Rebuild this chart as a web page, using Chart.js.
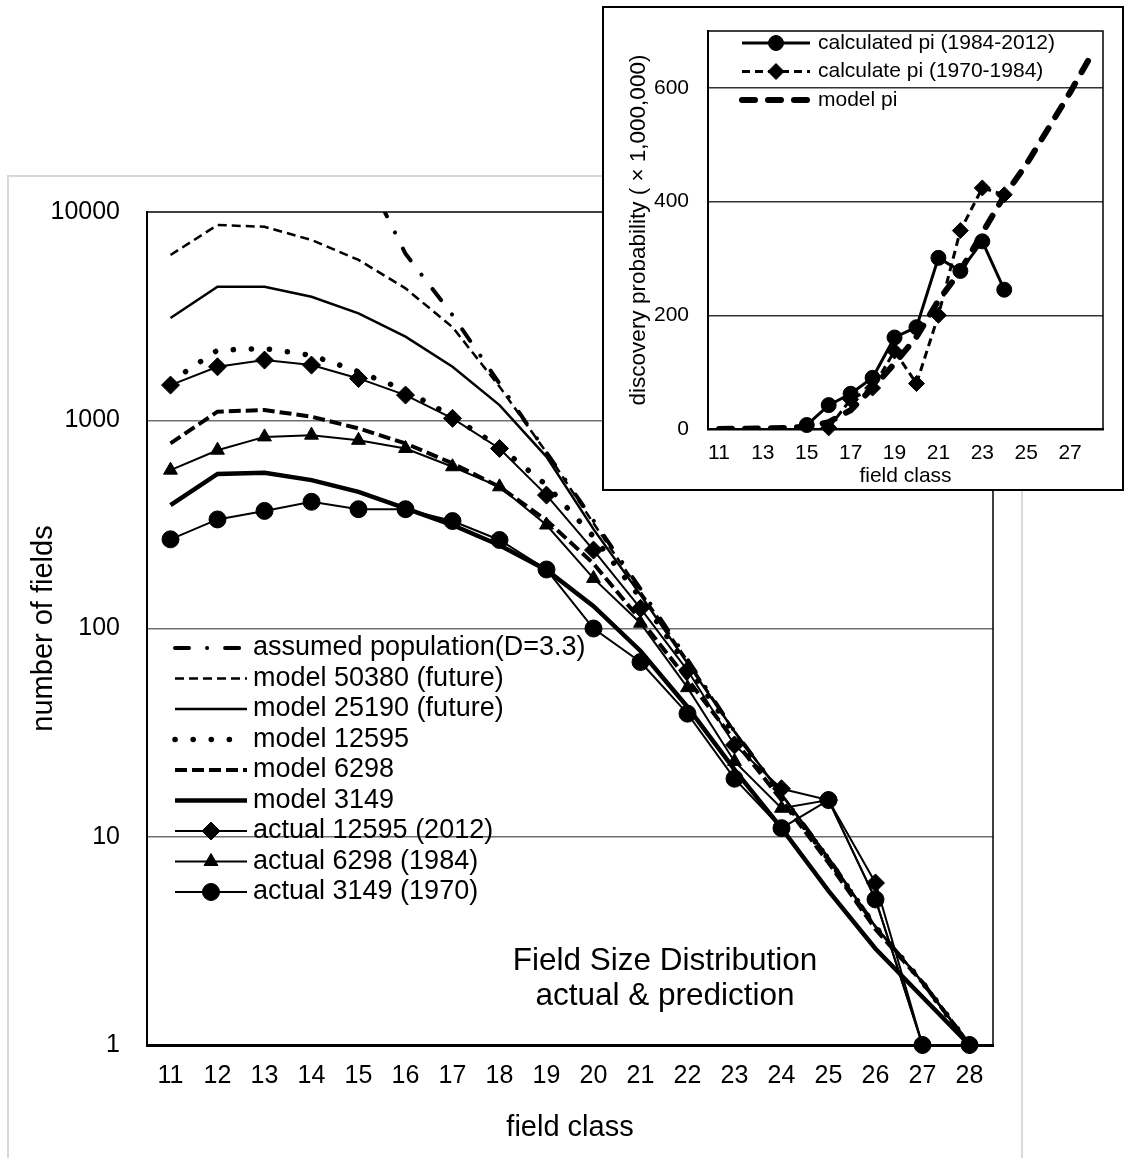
<!DOCTYPE html>
<html lang="en">
<head>
<meta charset="UTF-8">
<title>Field Size Distribution</title>
<script src="https://cdn.jsdelivr.net/npm/chart.js"></script>
<style>
    body { margin: 0; background: #fff; }
    #page { position: relative; width: 1124px; height: 1158px; overflow: hidden; }
    #frame { position: absolute; left: 7px; top: 175px; width: 1016px; height: 1020px; border: 2px solid #d9d9d9; box-sizing: border-box; }
    #mainChart { position: absolute; left: 0; top: 0; }
    #insetWrap { position: absolute; left: 602px; top: 6px; width: 522px; height: 485px; border: 2px solid #000; background: #fff; box-sizing: border-box; }
    #insetChart { display: block; }
</style>
</head>
<body>
<div id="page">
    <div id="frame"></div>
    <canvas id="mainChart" width="1124" height="1158"></canvas>
    <div id="insetWrap"><canvas id="insetChart" width="518" height="481"></canvas></div>
</div>

<script>
// field classes (x axis of both charts)
var classes = ['11','12','13','14','15','16','17','18','19','20','21','22','23','24','25','26','27','28'];
var yTicks = [1, 10, 100, 1000, 10000];

// number of fields, main chart
var assumedPop  = [null, null, null, null, 18000, 6300, 3200, 1500, 700, 330, 155, 71, 32, 16, 7.9, 3.7, 2, 1];
var model50380  = [6215, 8660, 8490, 7340, 5890, 4300, 2800, 1450, 700, 320, 150, 70, 32, 16, 7.9, 3.7, 2, 1];
var model25190  = [3100, 4375, 4375, 3920, 3260, 2520, 1806, 1183, 667, 300, 145, 68, 32, 16, 7.9, 3.7, 2, 1];
var model12595  = [1530, 2170, 2210, 2050, 1710, 1395, 1040, 745, 488, 276, 140, 66, 31, 15.5, 7.8, 3.7, 2, 1];
var model6298   = [774, 1100, 1120, 1040, 914, 774, 621, 479, 331, 205, 110, 57, 29, 15, 7.5, 3.6, 2, 1];
var model3149   = [391, 552, 560, 516, 453, 377, 314, 251, 191, 128, 78, 42, 21, 11, 5.5, 2.9, 1.7, 1];
var actual12595 = [1475, 1806, 1945, 1840, 1588, 1321, 1021, 732, 437, 238, 125, 63, 27.6, 17, 15, 6, 1, 1];
var actual6298  = [576, 718, 832, 848, 801, 732, 598, 479, 314, 174, 106, 52, 23, 13.7, 15, 5, 1, 1];
var actual3149  = [268, 334, 367, 406, 374, 374, 328, 266, 192, 100, 69, 39, 19, 11, 15, 5, 1, 1];

// discovery probability (x 1,000,000), inset chart
var calcPi8412 = [null, null, null, null, 7, 42, 62, 90, 161, 179, 301, 278, 330, 245, null, null, null, null];
var calcPi7084 = [null, null, null, null, null, 2, 52, 72, 137, 80, 200, 349, 424, 412, null, null, null, null];
var modelPi    = [0, 0.5, 1, 2, 4, 12, 33, 72, 115, 162, 226, 278, 345, 410, 465, 528, 592, 660];

var FONT = "'Liberation Sans', Arial, sans-serif";

function lineSet(label, data, width, dash, cap, order) {
    return {
        label: label, data: data, borderColor: '#000', backgroundColor: '#000',
        borderWidth: width, borderDash: dash, borderCapStyle: cap,
        pointRadius: 0, tension: 0, order: order
    };
}
function markSet(label, data, style, radius, width, dash, order) {
    return {
        label: label, data: data, borderColor: '#000', backgroundColor: '#000',
        borderWidth: width, borderDash: dash, pointStyle: style, pointRadius: radius,
        pointBorderWidth: 1, tension: 0, order: order, clip: false
    };
}

// draws top and right edge of the plot box
var boxEdges = {
    id: 'boxEdges',
    afterDraw: function(chart, args, opts) {
        var a = chart.chartArea, ctx = chart.ctx;
        ctx.save();
        ctx.strokeStyle = '#000';
        ctx.lineWidth = opts.width || 1.5;
        ctx.beginPath();
        ctx.moveTo(a.left, a.top); ctx.lineTo(a.right, a.top); ctx.lineTo(a.right, a.bottom);
        ctx.stroke();
        ctx.restore();
    }
};

// legend drawn inside the plot area
var boxLegend = {
    id: 'boxLegend',
    afterDatasetsDraw: function(chart, args, opts) {
        var ctx = chart.ctx;
        ctx.save();
        ctx.font = opts.size + 'px ' + FONT;
        ctx.textBaseline = 'middle';
        ctx.textAlign = 'left';
        chart.data.datasets.forEach(function(ds, i) {
            var y = opts.y + i * opts.rowH;
            ctx.strokeStyle = '#000';
            ctx.fillStyle = '#000';
            ctx.lineWidth = ds.borderWidth;
            ctx.lineCap = ds.borderCapStyle || 'butt';
            ctx.setLineDash(ds.borderDash || []);
            ctx.beginPath();
            ctx.moveTo(opts.x, y);
            ctx.lineTo(opts.x + opts.len, y);
            ctx.stroke();
            ctx.setLineDash([]);
            ctx.lineCap = 'butt';
            if (ds.pointRadius > 0) {
                ctx.lineWidth = 1;
                Chart.helpers.drawPoint(ctx, {pointStyle: ds.pointStyle, radius: ds.pointRadius, rotation: 0, borderWidth: 1},
                    opts.x + opts.len / 2, y);
            }
            ctx.fillText(ds.label, opts.x + opts.len + opts.gap, y);
        });
        ctx.restore();
    }
};

var noteText = {
    id: 'noteText',
    afterDraw: function(chart) {
        var ctx = chart.ctx;
        ctx.save();
        ctx.fillStyle = '#000';
        ctx.font = '31.5px ' + FONT;
        ctx.textAlign = 'center';
        ctx.textBaseline = 'middle';
        ctx.fillText('Field Size Distribution', 665, 961);
        ctx.fillText('actual & prediction', 665, 996);
        ctx.restore();
    }
};

new Chart(document.getElementById('mainChart'), {
    type: 'line',
    data: {
        labels: classes,
        datasets: [
            lineSet('assumed population(D=3.3)', assumedPop, 4, [14, 18, 0.1, 18], 'round', 1),
            lineSet('model 50380 (future)', model50380, 2.5, [9, 5], 'butt', 1),
            lineSet('model 25190 (future)', model25190, 2.5, [], 'butt', 1),
            lineSet('model 12595', model12595, 5.5, [0.1, 18], 'round', 1),
            lineSet('model 6298', model6298, 4, [12, 5], 'butt', 1),
            lineSet('model 3149', model3149, 4.5, [], 'butt', 1),
            markSet('actual 12595 (2012)', actual12595, 'rectRot', 9, 2, [], 0),
            markSet('actual 6298 (1984)', actual6298, 'triangle', 8, 2, [], 0),
            markSet('actual 3149 (1970)', actual3149, 'circle', 8.5, 2, [], 0)
        ]
    },
    options: {
        responsive: false,
        animation: false,
        layout: { padding: { top: 212, right: 131, left: 0, bottom: 0 } },
        plugins: {
            legend: { display: false },
            tooltip: { enabled: false },
            boxEdges: { width: 1.5 },
            boxLegend: { x: 175, y: 648, rowH: 30.5, len: 72, gap: 6, size: 27 }
        },
        scales: {
            x: {
                type: 'category',
                offset: true,
                grid: { display: false, drawTicks: false },
                border: { color: '#000', width: 3 },
                ticks: { color: '#000', font: { family: FONT, size: 25 }, padding: 16, autoSkip: false, maxRotation: 0 },
                title: { display: true, text: 'field class', color: '#000', font: { family: FONT, size: 29 }, padding: { top: 0, bottom: 13 } },
                afterFit: function(s) { s.height = 113; }
            },
            y: {
                type: 'logarithmic',
                min: 1,
                max: 10000,
                afterBuildTicks: function(s) { s.ticks = yTicks.map(function(v) { return { value: v }; }); },
                ticks: { color: '#000', font: { family: FONT, size: 25 }, padding: 27, callback: function(v) { return String(v); } },
                grid: {
                    drawTicks: false,
                    lineWidth: 1.5,
                    color: function(c) { return (c.tick && (c.tick.value === 1 || c.tick.value === 10000)) ? 'rgba(0,0,0,0)' : '#6f6f6f'; }
                },
                border: { color: '#000', width: 2 },
                title: { display: true, text: 'number of fields', color: '#000', font: { family: FONT, size: 29 }, padding: { top: 27, bottom: 0 } },
                afterFit: function(s) { s.width = 147; }
            }
        }
    },
    plugins: [boxEdges, boxLegend, noteText]
});

new Chart(document.getElementById('insetChart'), {
    type: 'line',
    data: {
        labels: classes,
        datasets: [
            markSet('calculated pi (1984-2012)', calcPi8412, 'circle', 7.5, 3, [], 0),
            markSet('calculate pi (1970-1984)', calcPi7084, 'rectRot', 8, 3, [8, 5], 0),
            lineSet('model pi', modelPi, 6, [13, 13], 'round', 1)
        ]
    },
    options: {
        responsive: false,
        animation: false,
        layout: { padding: { top: 23, right: 19, left: 0, bottom: 0 } },
        plugins: {
            legend: { display: false },
            tooltip: { enabled: false },
            boxEdges: { width: 1.5 },
            boxLegend: { x: 138, y: 35, rowH: 28.5, len: 68, gap: 8, size: 21 }
        },
        scales: {
            x: {
                type: 'category',
                offset: true,
                grid: { display: false, drawTicks: false },
                border: { color: '#000', width: 2.5 },
                ticks: {
                    color: '#000', font: { family: FONT, size: 21 }, padding: 12, autoSkip: false, maxRotation: 0,
                    callback: function(v, i) { return i % 2 === 0 ? classes[i] : ''; }
                },
                title: { display: true, text: 'field class', color: '#000', font: { family: FONT, size: 21 }, padding: { top: 0, bottom: 0 } },
                afterFit: function(s) { s.height = 60; }
            },
            y: {
                min: 0,
                max: 700,
                ticks: { stepSize: 200, includeBounds: false, color: '#000', font: { family: FONT, size: 21 }, padding: 19 },
                grid: {
                    drawTicks: false,
                    lineWidth: 1.5,
                    color: function(c) { return (c.tick && c.tick.value === 0) ? 'rgba(0,0,0,0)' : '#333'; }
                },
                border: { color: '#000', width: 2 },
                title: { display: true, text: 'discovery probability ( \u00d7 1,000,000)', color: '#000', font: { family: FONT, size: 22.5 }, padding: { top: 21, bottom: 0 } },
                afterFit: function(s) { s.width = 104; s.paddingTop = 0; s.paddingBottom = 0; }
            }
        }
    },
    plugins: [boxEdges, boxLegend]
});
</script>
</body>
</html>
